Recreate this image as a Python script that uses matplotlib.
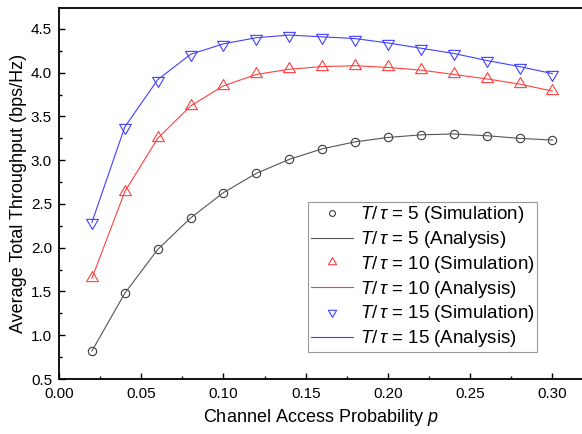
import numpy as np
import matplotlib.pyplot as plt
from matplotlib.path import Path
from matplotlib.ticker import MultipleLocator

plt.rcParams['font.family'] = ['Liberation Sans', 'DejaVu Sans']
plt.rcParams['mathtext.fontset'] = 'custom'
plt.rcParams['mathtext.rm'] = 'Liberation Sans'
plt.rcParams['mathtext.it'] = 'Liberation Sans:italic'

# channel access probability
p = [0.02, 0.04, 0.06, 0.08, 0.10, 0.12, 0.14, 0.16, 0.18, 0.20, 0.22, 0.24, 0.26, 0.28, 0.30]

# T/tau = 5
thr_5 = [0.82, 1.48, 1.98, 2.34, 2.63, 2.85, 3.01, 3.13, 3.21, 3.26, 3.29, 3.30, 3.28, 3.25, 3.23]
# T/tau = 10
thr_10 = [1.65, 2.64, 3.25, 3.62, 3.85, 3.98, 4.04, 4.07, 4.08, 4.06, 4.03, 3.98, 3.93, 3.87, 3.79]
# T/tau = 15
thr_15 = [2.29, 3.38, 3.92, 4.21, 4.33, 4.40, 4.43, 4.41, 4.39, 4.34, 4.28, 4.22, 4.14, 4.07, 3.99]

# triangles placed like Origin does: data point near the base
tri_up = Path([(0, 1.0), (-0.85, -0.45), (0.85, -0.45), (0, 1.0)],
              [Path.MOVETO, Path.LINETO, Path.LINETO, Path.CLOSEPOLY])
tri_dn = Path([(0, -1.0), (-0.85, 0.45), (0.85, 0.45), (0, -1.0)],
              [Path.MOVETO, Path.LINETO, Path.LINETO, Path.CLOSEPOLY])

fig = plt.figure(figsize=(5.82, 4.34), dpi=100)
ax = fig.add_axes([0.1014, 0.1267, 0.8986, 0.855])

c5, c10, c15 = '#3a3a3a', '#ff4040', '#4040ff'

ax.plot(p, thr_5, linestyle='none', marker='o', ms=6, mfc='none', mec=c5, mew=0.8,
        label=r'$T/\,\tau$ = 5 (Simulation)')
ax.plot(p, thr_5, color='#555555', lw=0.8, label=r'$T/\,\tau$ = 5 (Analysis)')
ax.plot(p, thr_10, linestyle='none', marker=tri_up, ms=10, mfc='none', mec=c10, mew=0.8,
        label=r'$T/\,\tau$ = 10 (Simulation)')
ax.plot(p, thr_10, color=c10, lw=0.8, label=r'$T/\,\tau$ = 10 (Analysis)')
ax.plot(p, thr_15, linestyle='none', marker=tri_dn, ms=10, mfc='none', mec=c15, mew=0.8,
        label=r'$T/\,\tau$ = 15 (Simulation)')
ax.plot(p, thr_15, color=c15, lw=0.8, label=r'$T/\,\tau$ = 15 (Analysis)')

ax.set_xlim(0, 0.318)
ax.set_ylim(0.5, 4.74)
ax.xaxis.set_major_locator(MultipleLocator(0.05))
ax.xaxis.set_minor_locator(MultipleLocator(0.025))
ax.yaxis.set_major_locator(MultipleLocator(0.5))
ax.yaxis.set_minor_locator(MultipleLocator(0.25))
ax.xaxis.set_major_formatter(plt.FormatStrFormatter('%.2f'))
ax.yaxis.set_major_formatter(plt.FormatStrFormatter('%.1f'))

ax.tick_params(which='both', direction='in', top=False, right=False, width=1.0, labelsize=11)
ax.tick_params(which='major', length=4.5)
ax.tick_params(which='minor', length=2.5)
ax.tick_params(axis='x', pad=6)
ax.tick_params(axis='y', pad=5)

ax.spines['right'].set_visible(False)
for s in ['left', 'bottom', 'top']:
    ax.spines[s].set_linewidth(1.3)

ax.set_xlabel('Channel Access Probability $p$', fontsize=13, labelpad=4)
ax.set_ylabel('Average Total Throughput (bps/Hz)', fontsize=13, labelpad=3)

leg = ax.legend(loc='lower right', bbox_to_anchor=(0.914, 0.073), borderaxespad=0,
                fontsize=13.5, frameon=True, fancybox=False, edgecolor='#808080',
                handlelength=2.25, handletextpad=0.35, labelspacing=0.2,
                borderpad=0.15, markerscale=0.7)
leg.get_frame().set_linewidth(0.8)

fig.savefig('out.png', dpi=100)
